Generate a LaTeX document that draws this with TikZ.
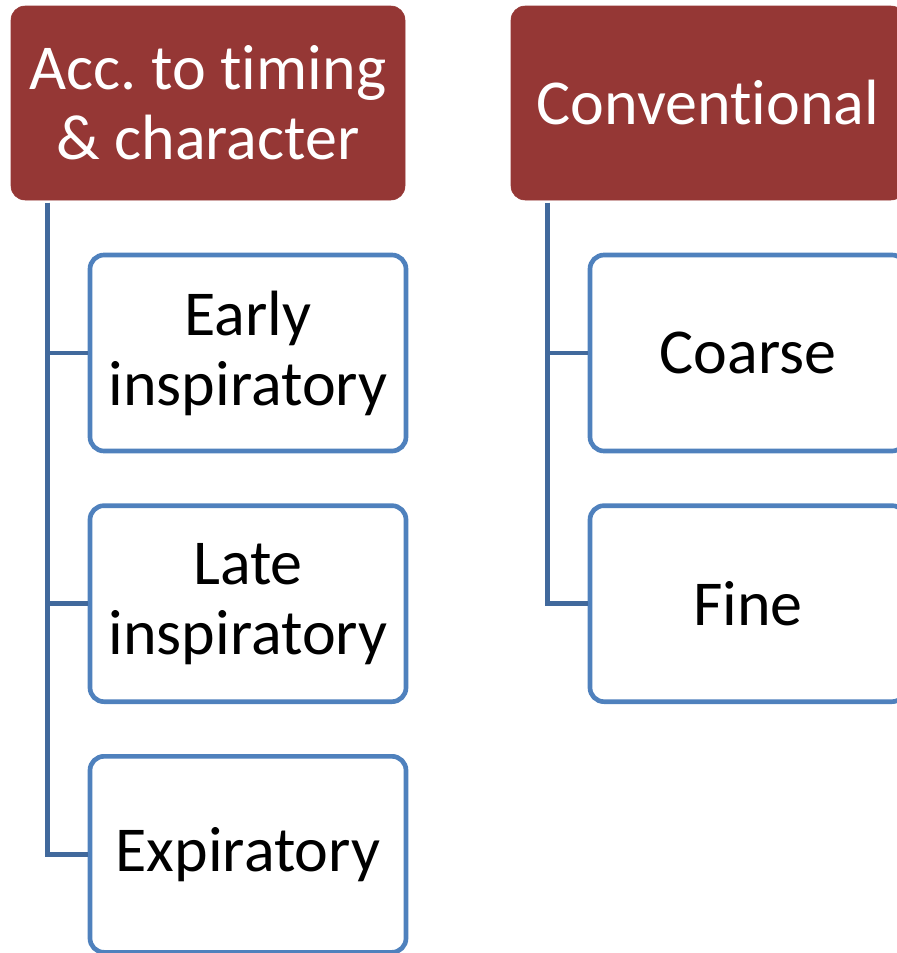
\documentclass[tikz,border=0pt]{standalone}
\usepackage{fontspec}
\setmainfont[Ligatures=NoCommon]{Carlito}
\usetikzlibrary{positioning}
\frenchspacing

\definecolor{headred}{HTML}{953735}
\definecolor{boxblue}{HTML}{4F81BD}
\definecolor{lineblue}{HTML}{41699C}

\tikzset{
  headbox/.style={fill=headred, draw=headred, rounded corners=10.5pt, text=white,
    minimum width=295.5pt, minimum height=145.5pt, inner sep=0pt, align=center,
    font=\fontsize{48}{52.5}\selectfont},
  itembox/.style={fill=white, draw=boxblue, line width=3.5pt, rounded corners=10.5pt,
    minimum width=237pt, minimum height=147pt, inner sep=0pt, align=center,
    font=\fontsize{48}{52.5}\selectfont},
  link/.style={draw=lineblue, line width=3.5pt}
}

\begin{document}
\begin{tikzpicture}[x=0.75pt, y=-0.75pt]
	\useasboundingbox (0,0) rectangle (896,953);

	% headers
	\node[headbox] (timing) at (208,103) {Acc. to timing\\\& character};
	\node[headbox] (conv) at (708,103) {Conventional};

	% children
	\node[itembox] (early) at (248,353) {Early\\inspiratory};
	\node[itembox, below=37.5pt of early] (late) {Late\\inspiratory};
	\node[itembox, below=37.5pt of late] (expir) {Expiratory};
	\node[itembox] (coarse) at (748,353) {Coarse};
	\node[itembox, below=37.5pt of coarse] (fine) {Fine};

	% connectors
	\coordinate (tstem) at ([xshift=27.75pt, yshift=-2pt]timing.south west);
	\coordinate (cstem) at ([xshift=27.75pt, yshift=-2pt]conv.south west);
	\foreach \child in {early, late, expir}
		\draw[link] (tstem) |- (\child.west);
	\foreach \child in {coarse, fine}
		\draw[link] (cstem) |- (\child.west);
\end{tikzpicture}
\end{document}
